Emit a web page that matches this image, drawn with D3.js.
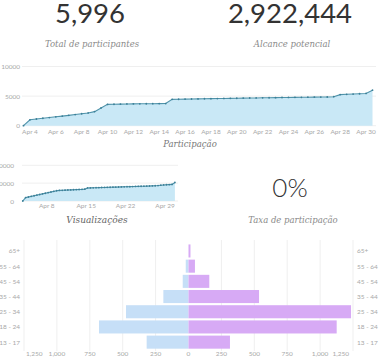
<!DOCTYPE html>
<html><head><meta charset="utf-8">
<script src="https://cdn.jsdelivr.net/npm/d3@7/dist/d3.min.js"></script>
<style>body{margin:0;background:#fff;} svg{display:block;}</style>
</head><body>
<svg id="c" width="380" height="362"></svg>
<script>
// ---------- DATA ----------
const kpiValues = [5996, 2922444];
const kpiLabels = ["Total de participantes", "Alcance potencial"];
const rateText = "0%";
const rateLabel = "Taxa de participação";
const participationTitle = "Participação";
const viewsTitle = "Visualizações";

// points every 12 hours, from Apr 3 12:00 (participation) / Apr 3 18:00 (views)
const participationValues = [0, 1000, 1130, 1260, 1380, 1500, 1620, 1750, 1880, 2020, 2150, 2380, 3000, 3600,
  3620, 3650, 3670, 3690, 3700, 3710, 3720, 3730, 3740,
  4450, 4470, 4490, 4510, 4530, 4550, 4570, 4590, 4600, 4620, 4640, 4660, 4680, 4690, 4710, 4720, 4740, 4760, 4770, 4790, 4800, 4810, 4830, 4840, 4850,
  4900, 5250, 5300, 5350, 5400, 5450, 5996];
const viewValues = [0, 3800, 4500, 5200, 5900, 6600, 7300, 8000, 8700, 9400, 10100, 10800, 11500, 11900,
  12000, 12150, 12300, 12450, 12600, 12750, 12900, 13050, 13300,
  14600, 14700, 14800, 14900, 15000, 15100, 15200, 15300, 15400, 15500, 15600, 15700, 15800, 15900, 16000, 16100, 16200, 16300, 16400, 16500, 16600, 16700, 16800, 16950, 17100,
  17300, 17700, 18000, 18200, 18400, 18600, 20800];
const participationTicks = [0, 5000, 10000];
const viewTicks = [0, 20000, 40000];

const ageGroups = ["65+", "55 - 64", "45 - 54", "35 - 44", "25 - 34", "18 - 24", "13 - 17"];
const leftValues = [0, 21, 44, 191, 475, 680, 318];
const rightValues = [15, 49, 158, 536, 1235, 1126, 315];
const pyramidTicks = [0, 250, 500, 750, 1000, 1250];

// ---------- DRAW ----------
const svg = d3.select("#c");
const sans = "Lato, 'Open Sans', sans-serif";
const serif = "'DejaVu Serif', 'Liberation Serif', serif";
const tickColor = "#a8a8a8", gridColor = "#efefef";
const lineColor = "#4f93aa", areaColor = "#c9e8f6", dotColor = "#3b7f97";
const fmtComma = d3.format(",");
const fmtDate = d3.timeFormat("%b %-d");

// KPIs
[90, 290].forEach((cx, i) => {
  svg.append("text").attr("x", cx).attr("y", 22.5).attr("text-anchor", "middle")
    .attr("font-family", sans).attr("font-size", 27.5).attr("fill", "#333")
    .text(fmtComma(kpiValues[i]));
  svg.append("text").attr("x", cx + 2).attr("y", 47).attr("text-anchor", "middle")
    .attr("font-family", serif).attr("font-style", "italic").attr("font-size", 8.5).attr("fill", "#8a8a8a")
    .text(kpiLabels[i]);
});

function timeChart(values, startHour, xDomain, xRange, yDomain, yRange, yTicks, xTicks, yLabelX, xLabelY, gridX) {
  const dates = values.map((v, i) => new Date(2015, 3, 3, startHour + 12 * i));
  const data = dates.map((d, i) => ({ d, v: values[i] }));
  const x = d3.scaleTime().domain(xDomain).range(xRange);
  const y = d3.scaleLinear().domain(yDomain).range(yRange);
  const g = svg.append("g");
  g.selectAll(".grid").data(yTicks).join("line")
    .attr("x1", gridX[0]).attr("x2", gridX[1])
    .attr("y1", d => y(d)).attr("y2", d => y(d))
    .attr("stroke", gridColor).attr("stroke-width", 1);
  g.selectAll(".yl").data(yTicks).join("text")
    .attr("x", yLabelX).attr("y", d => y(d) + 2.5).attr("text-anchor", "end")
    .attr("font-family", sans).attr("font-size", 6.5).attr("fill", tickColor)
    .text(d => d);
  g.append("path").datum(data)
    .attr("d", d3.area().x(d => x(d.d)).y0(y(0)).y1(d => y(d.v)))
    .attr("fill", areaColor);
  g.append("path").datum(data)
    .attr("d", d3.line().x(d => x(d.d)).y(d => y(d.v)))
    .attr("fill", "none").attr("stroke", lineColor).attr("stroke-width", 1.1);
  g.selectAll(".dot").data(data).join("circle")
    .attr("cx", d => x(d.d)).attr("cy", d => y(d.v)).attr("r", 0.9)
    .attr("fill", dotColor);
  g.selectAll(".xl").data(xTicks).join("text")
    .attr("x", d => x(d)).attr("y", xLabelY).attr("text-anchor", "middle")
    .attr("font-family", sans).attr("font-size", 6.5).attr("fill", tickColor)
    .text(d => fmtDate(d));
}

// Participação
timeChart(participationValues, 12,
  [new Date(2015, 3, 3, 12), new Date(2015, 3, 30, 12)], [23.5, 372.5],
  [0, 10000], [125.7, 66.5], participationTicks,
  d3.timeDay.range(new Date(2015, 3, 4), new Date(2015, 4, 1), 2),
  20, 133.5, [22, 376]);
svg.append("text").attr("x", 190).attr("y", 147).attr("text-anchor", "middle")
  .attr("font-family", serif).attr("font-style", "italic").attr("font-size", 8.5).attr("fill", "#777")
  .text(participationTitle);

// Visualizações
timeChart(viewValues, 18,
  [new Date(2015, 3, 3, 18), new Date(2015, 3, 30, 18)], [22.8, 174.9],
  [0, 40000], [201, 165.3], viewTicks,
  [new Date(2015, 3, 8), new Date(2015, 3, 15), new Date(2015, 3, 22), new Date(2015, 3, 29)],
  14, 208, [22, 178]);
svg.append("text").attr("x", 97).attr("y", 223).attr("text-anchor", "middle")
  .attr("font-family", serif).attr("font-style", "italic").attr("font-size", 9).attr("fill", "#666")
  .text(viewsTitle);

// Taxa
svg.append("text").attr("x", 290).attr("y", 197).attr("text-anchor", "middle")
  .attr("font-family", sans).attr("font-weight", 300).attr("font-size", 26).attr("fill", "#333")
  .text(rateText);
svg.append("text").attr("x", 293).attr("y", 223).attr("text-anchor", "middle")
  .attr("font-family", serif).attr("font-style", "italic").attr("font-size", 8.5).attr("fill", "#8a8a8a")
  .text(rateLabel);

// Pyramid
const center = 188.5;
const yB = d3.scaleBand().domain(ageGroups).range([242.3, 350.8]).padding(0.14);
const xL = d3.scaleLinear().domain([0, 1250]).range([center, 24]);
const xR = d3.scaleLinear().domain([0, 1250]).range([center, 353]);
const pg = svg.append("g");
pyramidTicks.filter(t => t > 0).forEach(t => {
  [xL(t), xR(t)].forEach(px => {
    pg.append("line").attr("x1", px).attr("x2", px).attr("y1", 240).attr("y2", 351)
      .attr("stroke", gridColor).attr("stroke-width", 1);
  });
});
pg.selectAll(".bl").data(ageGroups).join("rect")
  .attr("x", (d, i) => xL(leftValues[i])).attr("y", d => yB(d))
  .attr("width", (d, i) => center - xL(leftValues[i])).attr("height", yB.bandwidth())
  .attr("fill", "#c6dff7");
pg.selectAll(".br").data(ageGroups).join("rect")
  .attr("x", center).attr("y", d => yB(d))
  .attr("width", (d, i) => xR(rightValues[i]) - center).attr("height", yB.bandwidth())
  .attr("fill", "#d7aaf5");
pg.selectAll(".ll").data(ageGroups).join("text")
  .attr("x", 20).attr("y", d => yB(d) + yB.bandwidth() / 2 + 2.5).attr("text-anchor", "end")
  .attr("font-family", sans).attr("font-size", 6.5).attr("fill", tickColor).text(d => d);
pg.selectAll(".rl").data(ageGroups).join("text")
  .attr("x", 357).attr("y", d => yB(d) + yB.bandwidth() / 2 + 2.5).attr("text-anchor", "start")
  .attr("font-family", sans).attr("font-size", 6.5).attr("fill", tickColor).text(d => d);
pyramidTicks.forEach(t => {
  const last = t === pyramidTicks[pyramidTicks.length - 1];
  pg.append("text").attr("x", last ? xL(t) + 2 : xL(t)).attr("y", 356)
    .attr("text-anchor", last ? "start" : "middle")
    .attr("font-family", sans).attr("font-size", 6.5).attr("fill", tickColor).text(fmtComma(t));
  if (t > 0) pg.append("text").attr("x", last ? xR(t) - 4 : xR(t)).attr("y", 356)
    .attr("text-anchor", last ? "end" : "middle")
    .attr("font-family", sans).attr("font-size", 6.5).attr("fill", tickColor).text(fmtComma(t));
});
</script>
</body></html>
